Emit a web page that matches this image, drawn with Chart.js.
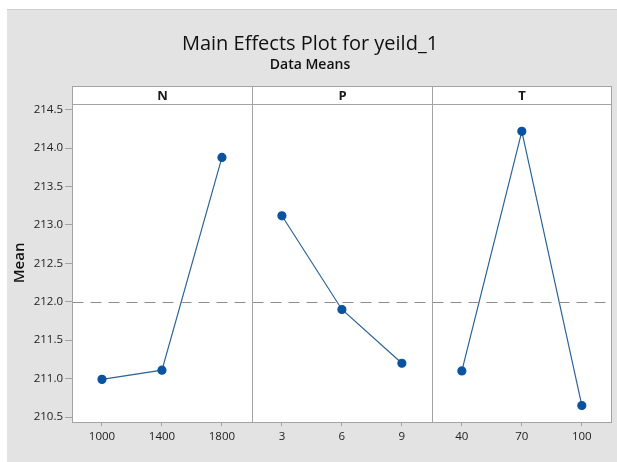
<!DOCTYPE html>
<html>
<head>
<meta charset="utf-8">
<script src="https://cdn.jsdelivr.net/npm/chart.js@4.4.1/dist/chart.umd.min.js"></script>
<style>
  body { margin: 0; background: #ffffff; }
  #wrap {
    position: absolute; left: 7px; top: 9px;
    width: 610px; height: 453px;
    background: #e3e3e3;
    border-top: 1px solid #cfcfcf;
    box-sizing: border-box;
  }
</style>
</head>
<body>
<div id="wrap"><canvas id="mainEffects" width="610" height="452"></canvas></div>
<script>
// factors and their levels (x axis tick labels)
var factors = ['N', 'P', 'T'];
var levelsN = ['1000', '1400', '1800'];
var levelsP = ['3', '6', '9'];
var levelsT = ['40', '70', '100'];

// data means
var meansN = [210.99, 211.11, 213.88];
var meansP = [213.12, 211.90, 211.20];
var meansT = [211.10, 214.22, 210.65];

// overall mean (dashed reference line)
var grandMean = [212.0];

var yTicks = [210.5, 211.0, 211.5, 212.0, 212.5, 213.0, 213.5, 214.0, 214.5];

var allLevels = levelsN.concat(levelsP, levelsT);
var groups = [levelsN, levelsP, levelsT];

function toPoints(levels, means) {
    return levels.map(function(l, i) { return { x: l, y: means[i] }; });
}

var lineColor = '#2c6496';
var dotColor = '#0a53a0';
var frameColor = '#a3a3a3';
var fontFamily = '"Open Sans", "Noto Sans", sans-serif';

function makeSet(label, levels, means) {
    return {
        label: label,
        data: toPoints(levels, means),
        borderColor: lineColor,
        borderWidth: 1.2,
        backgroundColor: dotColor,
        pointBackgroundColor: dotColor,
        pointBorderColor: dotColor,
        pointRadius: 4,
        pointHoverRadius: 4,
        tension: 0
    };
}

// panel frame, dividers, header strip and mean line
var panelPlugin = {
    id: 'panels',
    beforeDraw: function(chart) {
        var a = chart.chartArea, c = chart.ctx;
        c.save();
        c.fillStyle = '#ffffff';
        c.fillRect(a.left, a.top, a.right - a.left, a.bottom - a.top);
        c.restore();
    },
    afterDatasetsDraw: function(chart) {
        var a = chart.chartArea, c = chart.ctx;
        var xs = chart.scales.x, ys = chart.scales.y;
        var stripH = 18;
        var L = Math.round(a.left) + 0.5, R = Math.round(a.right) - 0.5;
        var T = Math.round(a.top) + 0.5, B = Math.round(a.bottom) + 0.5;
        var edges = [L];
        for (var g = 1; g < groups.length; g++) {
            var iPrev = allLevels.indexOf(groups[g - 1][groups[g - 1].length - 1]);
            var iNext = allLevels.indexOf(groups[g][0]);
            edges.push(Math.round((xs.getPixelForTick(iPrev) + xs.getPixelForTick(iNext)) / 2) + 0.5);
        }
        edges.push(R);

        c.save();
        // mean line
        var yMean = Math.round(ys.getPixelForValue(grandMean[0])) + 0.5;
        c.strokeStyle = '#8c8c8c';
        c.lineWidth = 1;
        c.setLineDash([11, 7]);
        c.beginPath();
        c.moveTo(L, yMean);
        c.lineTo(R, yMean);
        c.stroke();
        c.setLineDash([]);

        // header strip
        c.fillStyle = '#ffffff';
        c.fillRect(L, T - stripH, R - L, stripH);
        c.strokeStyle = frameColor;
        c.lineWidth = 1;
        c.strokeRect(L, T - stripH, R - L, B - T + stripH);
        c.beginPath();
        c.moveTo(L, T);
        c.lineTo(R, T);
        for (var k = 1; k < edges.length - 1; k++) {
            c.moveTo(edges[k], T - stripH);
            c.lineTo(edges[k], B);
        }
        c.stroke();

        c.fillStyle = '#1a1a1a';
        c.font = 'bold 13px ' + fontFamily;
        c.textAlign = 'center';
        c.textBaseline = 'middle';
        for (var f = 0; f < factors.length; f++) {
            c.fillText(factors[f], (edges[f] + edges[f + 1]) / 2, T - stripH / 2 + 1);
        }
        c.restore();
    }
};

var ctx = document.getElementById('mainEffects').getContext('2d');

var chart = new Chart(ctx, {
    type: 'line',
    data: {
        labels: allLevels,
        datasets: [
            makeSet('N', levelsN, meansN),
            makeSet('P', levelsP, meansP),
            makeSet('T', levelsT, meansT)
        ]
    },
    options: {
        responsive: false,
        animation: false,
        layout: { padding: { left: 0, right: 4, top: 0, bottom: 0 } },
        plugins: {
            legend: { display: false },
            tooltip: { enabled: false },
            title: {
                display: true,
                text: 'Main Effects Plot for yeild_1',
                color: '#111111',
                font: { family: fontFamily, size: 20, weight: 'normal' },
                padding: { top: 22, bottom: 0 }
            },
            subtitle: {
                display: true,
                text: 'Data Means',
                color: '#111111',
                font: { family: fontFamily, size: 14, weight: '600' },
                padding: { top: 1, bottom: 30 }
            }
        },
        scales: {
            x: {
                type: 'category',
                offset: true,
                grid: {
                    display: true,
                    drawOnChartArea: false,
                    offset: false,
                    tickLength: 4,
                    color: frameColor
                },
                border: { display: false },
                ticks: {
                    color: '#222222',
                    padding: 4,
                    font: { family: fontFamily, size: 11.5 }
                },
                afterFit: function(s) { s.height = 40; }
            },
            y: {
                min: 210.435,
                max: 214.578,
                afterBuildTicks: function(s) {
                    s.ticks = yTicks.map(function(v) { return { value: v }; });
                },
                grid: {
                    drawOnChartArea: false,
                    tickLength: 7,
                    color: frameColor
                },
                border: { display: false },
                ticks: {
                    color: '#222222',
                    padding: 2,
                    font: { family: fontFamily, size: 11.5 },
                    callback: function(v) { return v.toFixed(1); }
                },
                title: {
                    display: true,
                    text: 'Mean',
                    color: '#111111',
                    font: { family: fontFamily, size: 15, weight: '600' },
                    padding: { top: 4, bottom: 0 }
                },
                afterFit: function(s) { s.width = 65; }
            }
        }
    },
    plugins: [panelPlugin]
});
</script>
</body>
</html>
